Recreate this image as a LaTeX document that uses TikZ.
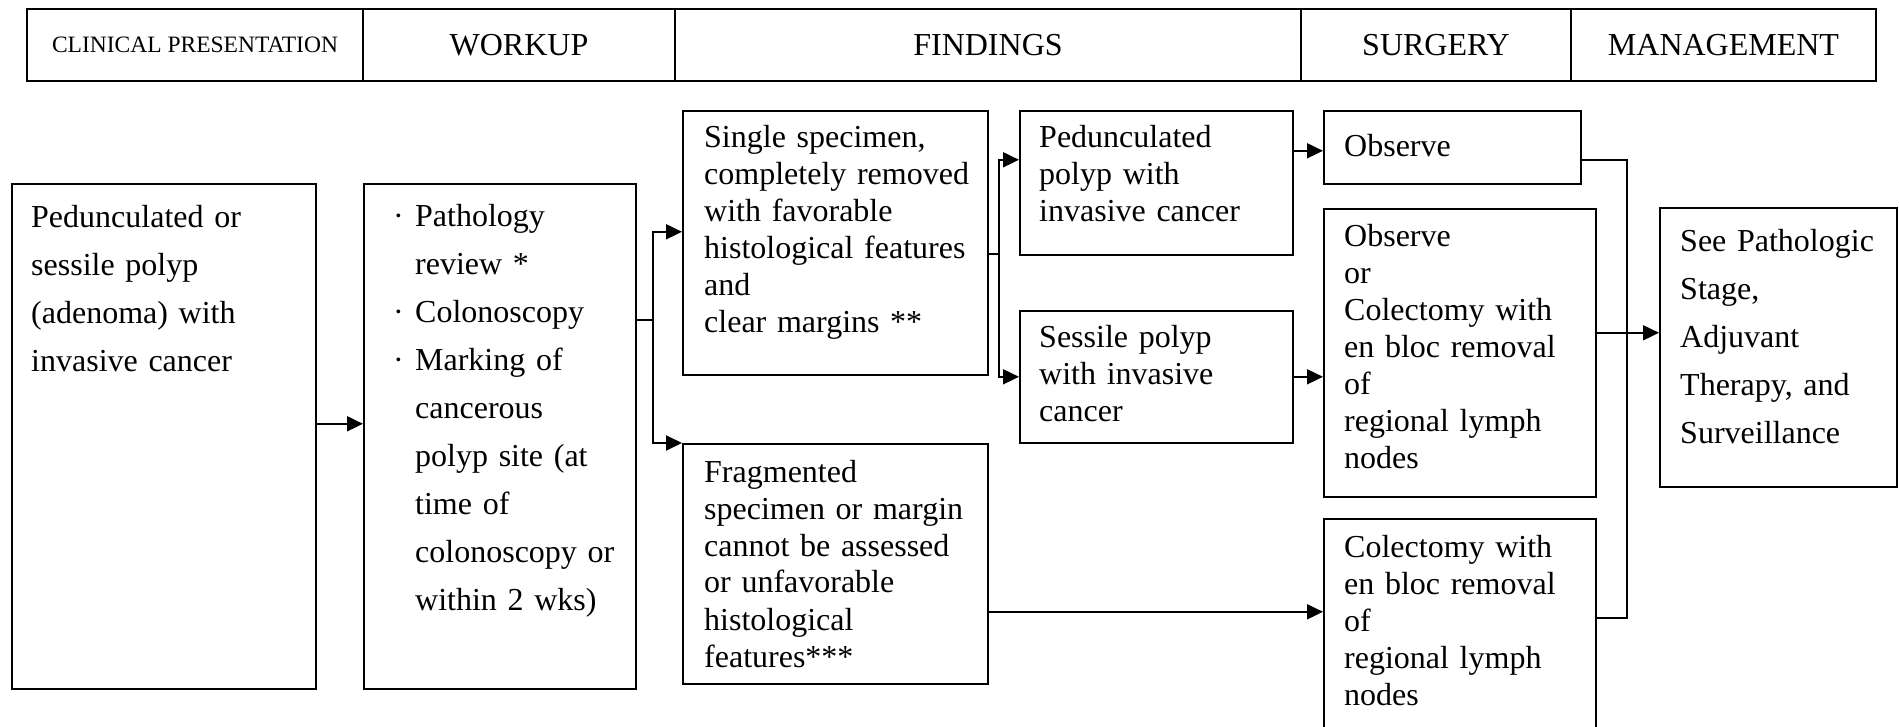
\documentclass[tikz,border=0pt]{standalone}
\usepackage{fontspec}
\setmainfont{Liberation Serif}
\usetikzlibrary{arrows.meta}
\newcommand\mybul{\makebox[22pt][l]{·}}
\newcommand\myind{\hspace*{22pt}}
\begin{document}
\begin{tikzpicture}[x=1pt,y=-1pt,
  hcell/.style={draw, line width=1.7pt, inner sep=0pt, minimum height=72pt, font=\fontsize{32}{38}\selectfont},
  box/.style={draw, line width=1.6pt, inner sep=0pt, anchor=north west},
  tx/.style={anchor=base west, inner sep=0pt, align=left, font=\fontsize{32}{37}\selectfont},
  txw/.style={anchor=base west, inner sep=0pt, align=left, font=\fontsize{32}{48}\selectfont},
  ln/.style={line width=1.5pt},
  arr/.style={line width=1.9pt, -{Triangle[length=16pt,width=15pt]}}]
\useasboundingbox (0,0) rectangle (1899,727);

% header
\node[hcell, minimum width=336pt] (h1) at (195,45) {\fontsize{23.5}{28}\selectfont CLINICAL PRESENTATION};
\node[hcell, minimum width=312pt] (h2) at (519,45) {WORKUP};
\node[hcell, minimum width=626pt] (h3) at (988,45) {FINDINGS};
\node[hcell, minimum width=270pt] (h4) at (1436,45) {SURGERY};
\node[hcell, minimum width=305pt] (h5) at (1723.5,45) {MANAGEMENT};

% boxes
\node[box, minimum width=304pt, minimum height=505pt] (A) at (11,183) {};
\node[box, minimum width=272pt, minimum height=505pt] (B) at (363,183) {};
\node[box, minimum width=305pt, minimum height=264pt] (C) at (682,110) {};
\node[box, minimum width=305pt, minimum height=240pt] (D) at (682,443) {};
\node[box, minimum width=273pt, minimum height=144pt] (E) at (1019,110) {};
\node[box, minimum width=273pt, minimum height=132pt] (F) at (1019,310) {};
\node[box, minimum width=257pt, minimum height=73pt] (G) at (1323,110) {};
\node[box, minimum width=272pt, minimum height=288pt] (H) at (1323,208) {};
\node[box, minimum width=272pt, minimum height=230pt] (I) at (1323,518) {};
\node[box, minimum width=237pt, minimum height=279pt] (J) at (1659,207) {};

% texts
\node[txw, text width=270pt] (tA) at (31,228) {Pedunculated or\\sessile polyp\\(adenoma) with\\invasive cancer};
\node[txw, text width=240pt] (tB) at (393,227) {\mybul Pathology\\\myind review *\\\mybul Colonoscopy\\\mybul Marking of\\\myind cancerous\\\myind polyp site (at\\\myind time of\\\myind colonoscopy or\\\myind within 2 wks)};
\node[tx, text width=280pt] (tC) at (704,148) {Single specimen,\\completely removed\\with favorable\\histological features\\and\\clear margins **};
\node[tx, text width=280pt] (tD) at (704,482) {Fragmented\\specimen or margin\\cannot be assessed\\or unfavorable\\histological\\features***};
\node[tx, text width=250pt] (tE) at (1039,148) {Pedunculated\\polyp with\\invasive cancer};
\node[tx, text width=250pt] (tF) at (1039,348) {Sessile polyp\\with invasive\\cancer};
\node[tx, text width=230pt] (tG) at (1344,157) {Observe};
\node[tx, text width=245pt] (tH) at (1344,247) {Observe\\or\\Colectomy with\\en bloc removal\\of\\regional lymph\\nodes};
\node[tx, text width=245pt] (tI) at (1344,557) {Colectomy with\\en bloc removal\\of\\regional lymph\\nodes};
\node[txw, text width=215pt] (tJ) at (1680,252) {See Pathologic\\Stage,\\Adjuvant\\Therapy, and\\Surveillance};

% connectors
\draw[arr] ([yshift=12.5pt]A.east) -- ([yshift=12.5pt]B.west);

\coordinate (jB) at (653,320);
\draw[ln] (jB -| B.east) -- (jB);
\draw[arr] (jB) |- ([yshift=11pt]C.west);
\draw[arr] (jB) |- (D.north west);

\coordinate (jC) at (999,254);
\draw[ln] (jC -| C.east) -- (jC);
\draw[arr] (jC) |- ([yshift=23pt]E.west);
\draw[arr] (jC) |- (F.west);

\draw[arr] ([yshift=-3.5pt]G.west -| E.east) -- ([yshift=-3.5pt]G.west);
\draw[arr] (F.east) -- (F.east -| H.west);
\draw[arr] ([yshift=-48pt]D.east) -- ([yshift=-48pt]D.east -| I.west);

\coordinate (jM) at (1627,332);
\draw[ln] ([yshift=-12.5pt]G.east) -| (jM);
\draw[ln] (jM) |- ([yshift=16pt]I.east);
\draw[arr] ([yshift=14.5pt]J.west -| H.east) -- ([yshift=14.5pt]J.west);
\end{tikzpicture}
\end{document}
